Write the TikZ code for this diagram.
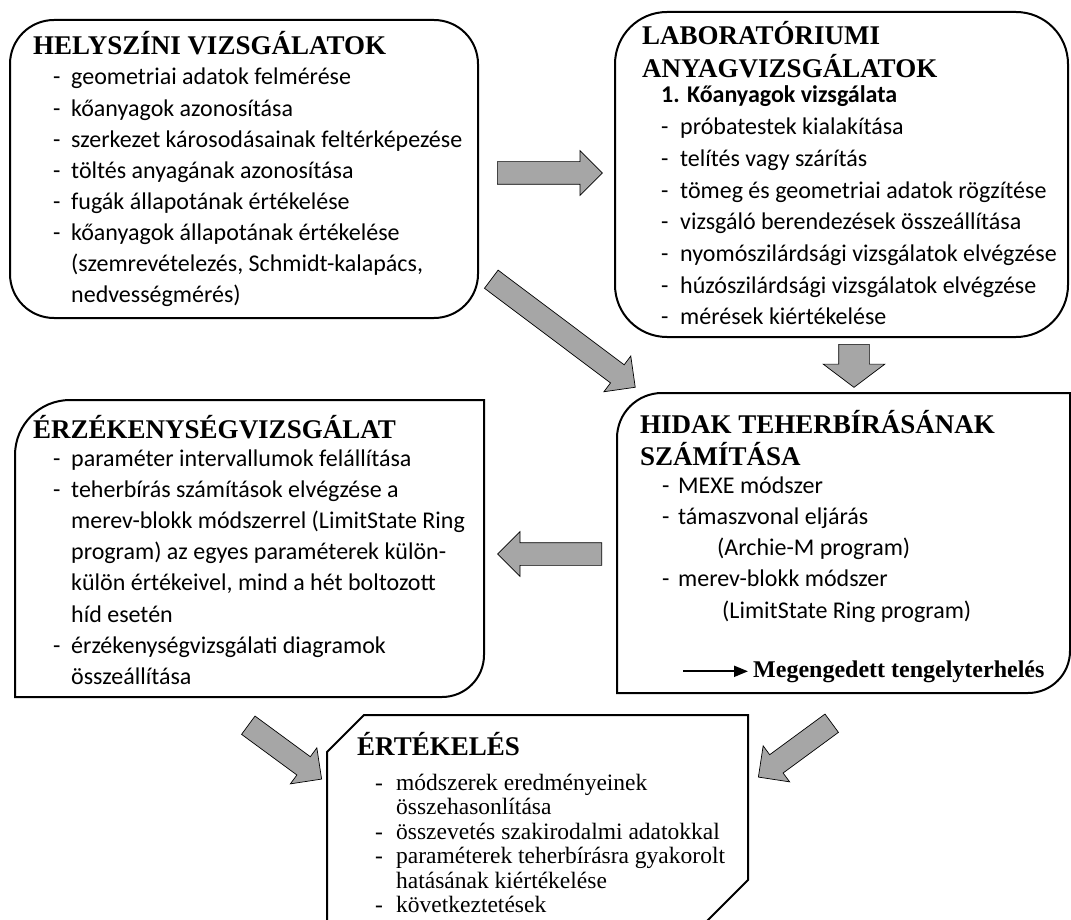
\documentclass[tikz,border=0pt]{standalone}
\usepackage{fontspec}
\setmainfont{Liberation Serif}
\newfontfamily\calibri{Carlito}
\usetikzlibrary{shapes.arrows, arrows.meta}
\definecolor{arrowgray}{RGB}{166,166,166}
\tikzset{
    x=1pt, y=-1pt, % one unit is one pixel of the picture, y goes down
    box/.style={line width=2pt}, % outline of the boxes
    heading/.style={anchor=base west, inner sep=0pt, font=\fontsize{27}{30}\selectfont\bfseries}, % Times bold titles
    items/.style={anchor=base west, inner sep=0pt, font=\calibri\fontsize{24}{#1}\selectfont}, % Calibri lists
    serif items/.style={anchor=base west, inner sep=0pt, font=\fontsize{23.5}{24.5}\selectfont}, % list of the last box
    big arrow/.style={single arrow, draw=black, fill=arrowgray, line width=0.7pt, anchor=tail,
        inner xsep=0pt, inner ysep=11pt, single arrow head extend=11pt,
        single arrow tip angle=90, minimum height=#1}, % grey block arrows
}
\begin{document}
\begin{tikzpicture}
    \useasboundingbox (0,0) rectangle (1071,920);

    % boxes
    \draw[box, rounded corners=44pt] (10,20) rectangle (478,318);
    \draw[box, rounded corners=52pt] (615,12) rectangle (1068,337);
    \draw[box] (15,550) [rounded corners=55pt] -- (15,400) [sharp corners] -- (484,400)
        [rounded corners=42pt] -- (484,697) [sharp corners] -- (15,697) -- cycle;
    \draw[box] (617,550) [rounded corners=45pt] -- (617,393) [sharp corners] -- (1070,393)
        [rounded corners=42pt] -- (1070,693) [sharp corners] -- (617,693) -- cycle;
    \draw[box] (327,922) -- (327,752) -- (364,715) -- (748,715) -- (748,880) -- (706,922);

    % field survey
    \node[heading] (helyszini) at (33,55) {HELYSZÍNI VIZSGÁLATOK};
    \node[items=31.1] (helyszinilist) at (53,85) {\begin{tabular}[t]{@{}p{18pt}@{}l@{}}
        - & geometriai adatok felmérése\\
        - & kőanyagok azonosítása\\
        - & szerkezet károsodásainak feltérképezése\\
        - & töltés anyagának azonosítása\\
        - & fugák állapotának értékelése\\
        - & kőanyagok állapotának értékelése\\
          & (szemrevételezés, Schmidt-kalapács,\\
          & nedvességmérés)
    \end{tabular}};

    % laboratory tests
    \node[heading] (labor) at (642,45) {\begin{tabular}[t]{@{}l@{}}
        LABORATÓRIUMI\\ ANYAGVIZSGÁLATOK\end{tabular}};
    \node[items=31.7] (laborlist) at (661,103) {\begin{tabular}[t]{@{}p{19pt}@{}l@{}}
        \multicolumn{2}{@{}l@{}}{\bfseries 1. Kőanyagok vizsgálata}\\
        - & próbatestek kialakítása\\
        - & telítés vagy szárítás\\
        - & tömeg és geometriai adatok rögzítése\\
        - & vizsgáló berendezések összeállítása\\
        - & nyomószilárdsági vizsgálatok elvégzése\\
        - & húzószilárdsági vizsgálatok elvégzése\\
        - & mérések kiértékelése
    \end{tabular}};

    % sensitivity analysis
    \node[heading] (erzekeny) at (33,438) {ÉRZÉKENYSÉGVIZSGÁLAT};
    \node[items=31.2] (erzekenylist) at (53,466) {\begin{tabular}[t]{@{}p{18pt}@{}l@{}}
        - & paraméter intervallumok felállítása\\
        - & teherbírás számítások elvégzése a\\
          & merev-blokk módszerrel (LimitState Ring\\
          & program) az egyes paraméterek külön-\\
          & külön értékeivel, mind a hét boltozott\\
          & híd esetén\\
        - & érzékenységvizsgálati diagramok\\
          & összeállítása
    \end{tabular}};

    % load capacity
    \node[heading] (hidak) at (640,433) {\begin{tabular}[t]{@{}l@{}}
        HIDAK TEHERBÍRÁSÁNAK\\ SZÁMÍTÁSA\end{tabular}};
    \node[items=31.25] (hidaklist) at (662,493) {\begin{tabular}[t]{@{}p{16pt}@{}l@{}}
        - & MEXE módszer\\
        - & támaszvonal eljárás\\
          & \hspace{39pt}(Archie-M program)\\
        - & merev-blokk módszer\\
          & \hspace{44pt}(LimitState Ring program)
    \end{tabular}};
    \node[heading, font=\fontsize{24}{28}\selectfont\bfseries] (tengely) at (753,677) {Megengedett tengelyterhelés};
    \coordinate (tengelystart) at ([xshift=-70pt]tengely.west);
    \draw[-{Triangle[length=14pt, width=11pt]}, line width=2pt, shorten >=5pt] (tengelystart) -- (tengely.west);

    % evaluation
    \node[heading] (ertekeles) at (357,755) {ÉRTÉKELÉS};
    \node[serif items] (ertekeleslist) at (375,790) {\begin{tabular}[t]{@{}p{21pt}@{}l@{}}
        - & módszerek eredményeinek\\
          & összehasonlítása\\
        - & összevetés szakirodalmi adatokkal\\
        - & paraméterek teherbírásra gyakorolt\\
          & hatásának kiértékelése\\
        - & következtetések
    \end{tabular}};

    % block arrows
    \node[big arrow=105pt] (helyTOlabor) at (497,173) {};
    \node[big arrow=180pt, rotate=-36.9] (helyTOhidak) at (491,279) {};
    \node[big arrow=43pt, rotate=-90, inner ysep=15pt, single arrow head extend=15.5pt,
        single arrow tip angle=106] (laborTOhidak) at (854,344) {};
    \node[big arrow=104pt, rotate=180] (hidakTOerz) at (602,554) {};
    \node[big arrow=91pt, rotate=-36.3] (erzTOert) at (248,725) {};
    \node[big arrow=91pt, rotate=-143.7] (hidakTOert) at (832,723) {};
\end{tikzpicture}
\end{document}
